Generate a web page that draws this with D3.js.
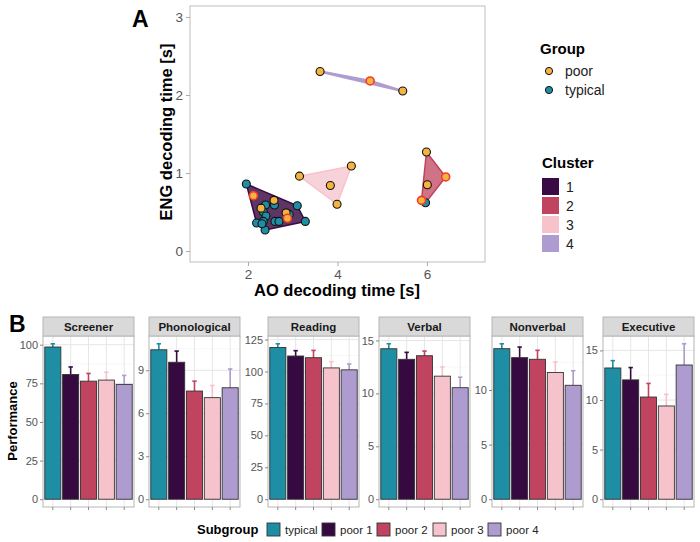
<!DOCTYPE html>
<html><head><meta charset="utf-8">
<script src="https://cdn.jsdelivr.net/npm/d3@7"></script>
<style>body{margin:0;background:#fff}svg{display:block;font-family:"Liberation Sans",Arial,Helvetica,sans-serif}</style>
</head><body><svg id="c" width="700" height="542"></svg>
<script>
// ---------- Panel A data ----------
const aoTime  = [1.96,2.12,2.58,2.59,2.29,2.39,2.34,2.40,2.85,2.88,2.92,3.10,3.28,2.19,2.34,2.38,2.60,2.69,2.31,
                 5.99,6.01,6.42,5.88,5.97,
                 3.15,4.31,3.84,3.99,
                 3.61,4.73,5.46];
const engTime = [0.86,0.71,0.65,0.59,0.55,0.59,0.50,0.45,0.49,0.42,0.47,0.58,0.38,0.36,0.38,0.27,0.38,0.38,0.35,
                 1.27,0.85,0.95,0.65,0.62,
                 0.96,1.09,0.84,0.60,
                 2.30,2.18,2.05];
const groupOf = ["typical","poor","poor","typical","poor","typical","typical","typical","poor","poor","typical","typical","typical","typical","typical","typical","typical","typical","typical",
                 "poor","poor","poor","poor","typical",
                 "poor","poor","poor","poor",
                 "poor","poor","poor"];
const clusterOf = [1,1,1,1,1,1,1,1,1,1,1,1,1,1,1,1,1,1,1, 2,2,2,2,2, 3,3,3,3, 4,4,4];
const highlighted = [0,1,0,0,0,0,0,0,0,1,0,0,0,0,0,0,0,0,0, 0,0,1,1,0, 0,0,0,0, 0,1,0];
const xTicksA = [2,4,6];
const yTicksA = [0,1,2,3];
const groups = ["poor","typical"];
const clusters = ["1","2","3","4"];

// ---------- Panel B data ----------
const subgroups = ["typical","poor 1","poor 2","poor 3","poor 4"];
const measures  = ["Screener","Phonological","Reading","Verbal","Nonverbal","Executive"];
const screenerMean = [98.5,80.7,76.4,77.1,74.3],   screenerErr = [100.6,85.6,81.4,82.2,80.1];
const phonoMean    = [10.43,9.56,7.55,7.09,7.78],  phonoErr    = [10.85,10.34,8.24,7.94,9.09];
const readingMean  = [118.8,112.1,110.8,102.8,101.3], readingErr = [121.7,116.3,116.5,107.7,105.9];
const verbalMean   = [14.22,13.22,13.56,11.63,10.54], verbalErr = [14.69,13.88,14.0,12.5,11.53];
const nonverbMean  = [13.78,12.96,12.81,11.6,10.43],  nonverbErr = [14.23,13.93,13.63,12.57,11.76];
const execMean     = [13.23,12.03,10.3,9.4,13.53],    execErr    = [13.97,13.27,11.67,10.57,15.67];
const screenerTicks = [0,25,50,75,100];
const phonoTicks    = [0,3,6,9];
const readingTicks  = [0,25,50,75,100,125];
const verbalTicks   = [0,5,10,15];
const nonverbTicks  = [0,5,10];
const execTicks     = [0,5,10,15];

const means = [screenerMean,phonoMean,readingMean,verbalMean,nonverbMean,execMean];
const errs  = [screenerErr,phonoErr,readingErr,verbalErr,nonverbErr,execErr];
const ticksB = [screenerTicks,phonoTicks,readingTicks,verbalTicks,nonverbTicks,execTicks];

// ---------- colours ----------
const subColor = d3.scaleOrdinal().domain(subgroups).range(["#1e8ea4","#360a40","#c0445f","#f6c3cc","#ae9cd0"]);
const clColor  = d3.scaleOrdinal().domain(clusters).range(["#3a0a44","#c0445f","#f6c3cc","#ae9cd0"]);
const grpColor = d3.scaleOrdinal().domain(groups).range(["#f5b43f","#1e8ea4"]);

const svg = d3.select("#c");

// ================= PANEL A =================
const xA = d3.scaleLinear().domain([0.70,7.30]).range([190,485]);
const yA = d3.scaleLinear().domain([-0.14,3.14]).range([262,6]);
const gA = svg.append("g");
gA.append("rect").attr("x",190).attr("y",6).attr("width",295).attr("height",256)
  .attr("fill","none").attr("stroke","#c8c8c8").attr("stroke-width",1.2);

const axXA = gA.append("g").attr("transform","translate(0,262)")
  .call(d3.axisBottom(xA).tickValues(xTicksA).tickFormat(d3.format("d")).tickSize(4).tickPadding(3));
const axYA = gA.append("g").attr("transform","translate(190,0)")
  .call(d3.axisLeft(yA).tickValues(yTicksA).tickFormat(d3.format("d")).tickSize(4).tickPadding(3));
[axXA,axYA].forEach(a=>{
  a.select(".domain").remove();
  a.selectAll("line").attr("stroke","#aaa");
  a.selectAll("text").attr("fill","#555").attr("font-size",13.5).attr("font-family",null);
});

const pts = aoTime.map((x,i)=>({x, y:engTime[i], g:groupOf[i], c:String(clusterOf[i]), h:highlighted[i]}));
clusters.forEach(c=>{
  const p = pts.filter(d=>d.c===c).map(d=>[xA(d.x),yA(d.y)]);
  const hull = d3.polygonHull(p);
  gA.append("path").attr("d","M"+hull.join("L")+"Z")
    .attr("fill",clColor(c)).attr("fill-opacity",c==="1"?0.82:0.75)
    .attr("stroke",clColor(c)).attr("stroke-width",c==="4"?2.5:1.5).attr("stroke-linejoin","round");
});
const ordered = pts.filter(d=>d.g==="typical").concat(pts.filter(d=>d.g==="poor"&&!d.h), pts.filter(d=>d.h));
gA.selectAll("circle.pt").data(ordered).join("circle").attr("class","pt")
  .attr("cx",d=>xA(d.x)).attr("cy",d=>yA(d.y)).attr("r",4)
  .attr("fill",d=>grpColor(d.g)).attr("stroke",d=>d.h?"#f23a26":"#111").attr("stroke-width",d=>d.h?1.6:1.1);

svg.append("text").attr("x",132).attr("y",27).attr("font-size",23).attr("font-weight","bold").text("A");
svg.append("text").attr("x",337).attr("y",296).attr("text-anchor","middle").attr("font-size",16.5).attr("font-weight","bold").text("AO decoding time [s]");
svg.append("text").attr("transform","translate(172,132) rotate(-90)").attr("text-anchor","middle").attr("font-size",16.5).attr("font-weight","bold").text("ENG decoding time [s]");

// legends A
const lg = svg.append("g");
lg.append("text").attr("x",540).attr("y",54).attr("font-size",15).attr("font-weight","bold").text("Group");
groups.forEach((g,i)=>{
  lg.append("circle").attr("cx",549).attr("cy",71+i*19).attr("r",3.6).attr("fill",grpColor(g)).attr("stroke","#111").attr("stroke-width",1);
  lg.append("text").attr("x",565).attr("y",76+i*19).attr("font-size",14).attr("fill","#222").text(g);
});
lg.append("text").attr("x",542).attr("y",168).attr("font-size",15).attr("font-weight","bold").text("Cluster");
clusters.forEach((c,i)=>{
  lg.append("rect").attr("x",542).attr("y",178+i*19).attr("width",17).attr("height",17).attr("fill",clColor(c));
  lg.append("text").attr("x",566).attr("y",192+i*19).attr("font-size",14).attr("fill","#222").text(c);
});

// ================= PANEL B =================
const panelLeft = [43,149,268,379,492,603];
const pw = 91, pTop = 336, pBot = 507;
svg.append("text").attr("x",9).attr("y",332).attr("font-size",23).attr("font-weight","bold").text("B");
svg.append("text").attr("transform","translate(17,421) rotate(-90)").attr("text-anchor","middle").attr("font-size",13).attr("font-weight","bold").text("Performance");

measures.forEach((m,k)=>{
  const g = svg.append("g").attr("transform",`translate(${panelLeft[k]},0)`);
  const mx = d3.max(errs[k]);
  const y = d3.scaleLinear().domain([-0.05*mx, 1.05*mx]).range([pBot,pTop]);
  const x = d3.scaleBand().domain(subgroups).range([0,pw]).paddingInner(0.1).paddingOuter(0.1);
  const tks = ticksB[k];
  const minor = tks.slice(0,-1).map((t,i)=>(t+tks[i+1])/2);
  const last = tks[tks.length-1], step = tks[1]-tks[0];
  if (last+step/2 < 1.05*mx) minor.push(last+step/2);
  g.selectAll("line.mn").data(minor).join("line").attr("x1",0).attr("x2",pw)
    .attr("y1",d=>y(d)).attr("y2",d=>y(d)).attr("stroke","#f2f2f2").attr("stroke-width",0.6);
  g.selectAll("line.mj").data(tks).join("line").attr("x1",0).attr("x2",pw)
    .attr("y1",d=>y(d)).attr("y2",d=>y(d)).attr("stroke","#e6e6e6").attr("stroke-width",1);
  g.selectAll("line.vg").data(subgroups).join("line").attr("y1",pTop).attr("y2",pBot)
    .attr("x1",d=>x(d)+x.bandwidth()/2).attr("x2",d=>x(d)+x.bandwidth()/2).attr("stroke","#e6e6e6").attr("stroke-width",1);
  const eb = subgroups.map((s,i)=>({s, m:means[k][i], e:errs[k][i]}));
  const cx = d=>x(d.s)+x.bandwidth()/2;
  g.selectAll("line.eb").data(eb).join("line").attr("x1",cx).attr("x2",cx)
    .attr("y1",d=>y(d.m)).attr("y2",d=>y(d.e)).attr("stroke",d=>subColor(d.s)).attr("stroke-width",1.6);
  g.selectAll("line.cap").data(eb).join("line").attr("x1",d=>cx(d)-2.2).attr("x2",d=>cx(d)+2.2)
    .attr("y1",d=>y(d.e)).attr("y2",d=>y(d.e)).attr("stroke",d=>subColor(d.s)).attr("stroke-width",1.6);
  g.selectAll("rect.bar").data(eb).join("rect").attr("x",d=>x(d.s)).attr("width",x.bandwidth())
    .attr("y",d=>y(d.m)).attr("height",d=>y(0)-y(d.m)).attr("fill",d=>subColor(d.s))
    .attr("stroke","#333").attr("stroke-width",0.9);
  g.append("rect").attr("x",0).attr("y",pTop).attr("width",pw).attr("height",pBot-pTop)
    .attr("fill","none").attr("stroke","#b5b5b5").attr("stroke-width",1);
  g.append("rect").attr("x",0).attr("y",317).attr("width",pw).attr("height",pTop-317)
    .attr("fill","#d9d9d9").attr("stroke","#b5b5b5").attr("stroke-width",1);
  g.append("text").attr("x",pw/2).attr("y",330.5).attr("text-anchor","middle").attr("font-size",11.5)
    .attr("font-weight","bold").attr("fill","#1a1a1a").text(m);
  const ay = g.append("g").call(d3.axisLeft(y).tickValues(tks).tickSize(3).tickPadding(2));
  ay.select(".domain").remove();
  ay.selectAll("line").attr("stroke","#888");
  ay.selectAll("text").attr("fill","#555").attr("font-size",11).attr("font-family",null);
  const ax = g.append("g").attr("transform",`translate(0,${pBot})`).call(d3.axisBottom(x).tickSize(3).tickFormat(""));
  ax.select(".domain").remove();
  ax.selectAll("line").attr("stroke","#888");
});

// bottom legend
const bl = svg.append("g");
bl.append("text").attr("x",197).attr("y",534).attr("font-size",13).attr("font-weight","bold").text("Subgroup");
const legX = [267,322,377,433,488];
subgroups.forEach((s,i)=>{
  bl.append("rect").attr("x",legX[i]).attr("y",523).attr("width",13).attr("height",13)
    .attr("fill",subColor(s)).attr("stroke","#333").attr("stroke-width",0.9);
  bl.append("text").attr("x",legX[i]+18).attr("y",534).attr("font-size",11.5).attr("fill","#222").text(s);
});
</script></body></html>
